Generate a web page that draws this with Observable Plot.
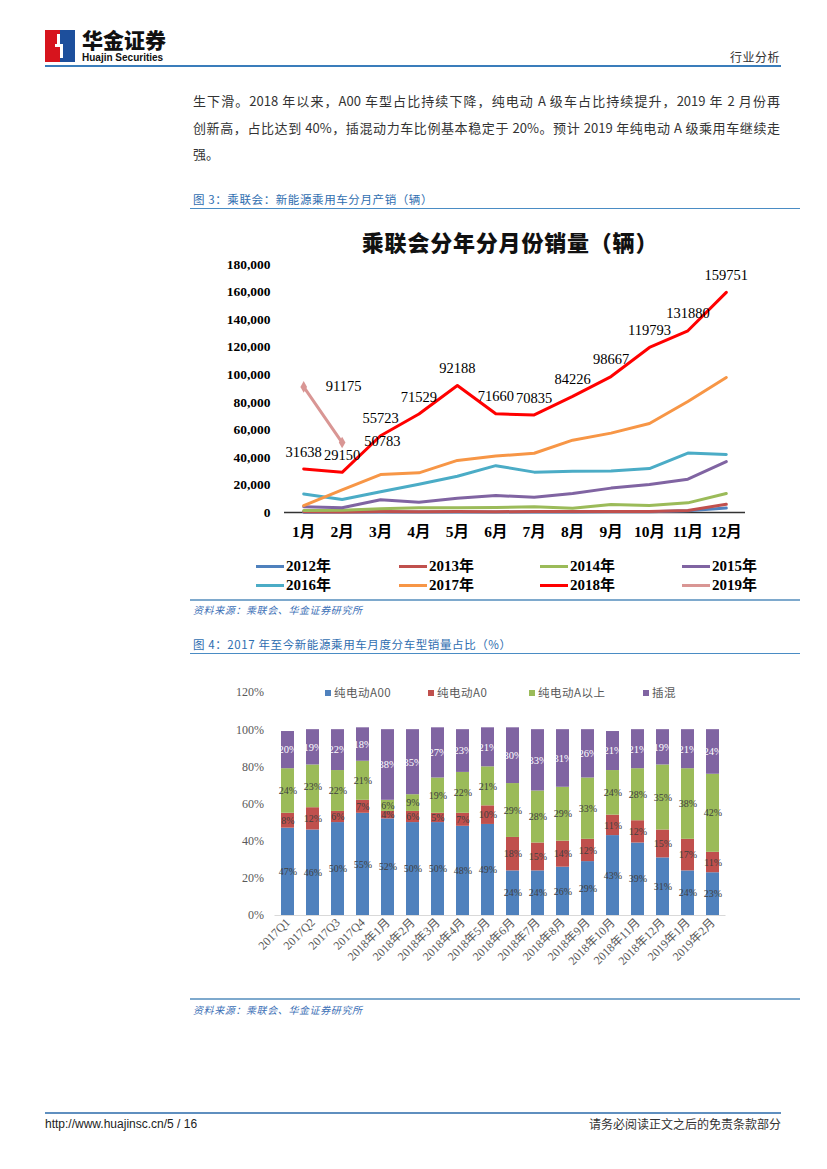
<!DOCTYPE html>
<html><head><meta charset="utf-8">
<script src="https://cdn.jsdelivr.net/npm/d3@7"></script>
<script src="https://cdn.jsdelivr.net/npm/@observablehq/plot@0.6"></script>
<style>
html,body{margin:0;padding:0;background:#fff}
body{width:827px;height:1169px;position:relative;overflow:hidden;font-family:"Noto Sans CJK SC",sans-serif;color:#333}
.a{position:absolute;white-space:nowrap}
.hl{position:absolute;height:0}
.cap{color:#2f6eb0;font-size:11.5px;letter-spacing:0.6px;line-height:14px}
.src{color:#3b6fb6;font-size:10px;font-style:italic;letter-spacing:0.6px;line-height:12px}
.body{font-size:13px;line-height:16px;color:#333;width:587px;left:193px;text-align:justify;text-align-last:justify}
.lg1{font-family:"Liberation Serif","Noto Sans CJK SC",serif;font-weight:bold;font-size:15px;line-height:18px;color:#000}
.lg1 .sw{display:inline-block;width:28px;height:3px;vertical-align:middle;margin-right:2px;position:relative;top:-1px}
.lg2{font-size:11.5px;line-height:14px;color:#595959;letter-spacing:0.5px}
.lg2 .sq{display:inline-block;width:6px;height:6px;margin-right:3px;vertical-align:middle;position:relative;top:-1px}
</style></head><body>
<!-- header -->
<div class="a" style="left:45px;top:30px;width:15px;height:32px;background:#d7141d"></div>
<div class="a" style="left:60px;top:30px;width:15px;height:32px;background:#1d4f9c"></div>
<div class="a" style="left:57px;top:34px;width:3px;height:12px;background:#fff"></div>
<div class="a" style="left:60px;top:44px;width:3px;height:14px;background:#fff"></div>
<div class="a" style="left:55px;top:44px;width:8px;height:3px;background:#fff"></div>
<div class="a" style="left:82px;top:29px;font-size:21px;font-weight:900;color:#111;line-height:21px;letter-spacing:0px">华金证券</div>
<div class="a" style="left:82px;top:53px;font-family:'Liberation Sans',Arial,sans-serif;font-size:10px;font-weight:bold;color:#111;line-height:10px">Huajin Securities</div>
<div class="a" style="right:47px;top:49px;font-size:12px;line-height:15px;color:#333;letter-spacing:0.5px">行业分析</div>
<div class="hl" style="left:45px;top:65px;width:736px;border-top:2px solid #3a7dbb"></div>

<div class="a body" style="top:93px">生下滑。2018 年以来，A00 车型占比持续下降，纯电动 A 级车占比持续提升，2019 年 2 月份再</div>
<div class="a body" style="top:120px">创新高，占比达到 40%，插混动力车比例基本稳定于 20%。预计 2019 年纯电动 A 级乘用车继续走</div>
<div class="a" style="left:193px;top:146px;font-size:13px;line-height:16px;color:#333">强。</div>

<!-- figure 3 -->
<div class="a cap" style="left:193px;top:192px">图 3：乘联会：新能源乘用车分月产销（辆）</div>
<div class="hl" style="left:190px;top:208px;width:610px;border-top:1.5px solid #4a8cc4"></div>
<div class="a" style="left:190px;width:640px;text-align:center;top:228px;font-size:22px;font-weight:900;color:#111;line-height:27px;letter-spacing:0.8px">乘联会分年分月份销量（辆）</div>
<div id="chart1" class="a" style="left:190px;top:250px"></div>
<div id="legend1"></div>
<div class="hl" style="left:190px;top:599px;width:610px;border-top:2px solid #7ea9cd"></div>
<div class="a src" style="left:193px;top:604px">资料来源：乘联会、华金证券研究所</div>

<!-- figure 4 -->
<div class="a cap" style="left:193px;top:637px">图 4：2017 年至今新能源乘用车月度分车型销量占比（%）</div>
<div class="hl" style="left:190px;top:653px;width:610px;border-top:1.5px solid #4a8cc4"></div>
<div id="chart2" class="a" style="left:190px;top:680px"></div>
<div id="legend2"></div>
<div class="hl" style="left:190px;top:998px;width:610px;border-top:2px solid #7ea9cd"></div>
<div class="a src" style="left:193px;top:1004px">资料来源：乘联会、华金证券研究所</div>

<!-- footer -->
<div class="hl" style="left:45px;top:1112px;width:736px;border-top:2px solid #5f8fbf"></div>
<div class="a" style="left:45px;top:1117px;font-family:'Liberation Sans',Arial,sans-serif;font-size:12px;line-height:14px;color:#222">http://www.huajinsc.cn/5 / 16</div>
<div class="a" style="right:46px;top:1117px;font-size:12px;line-height:14px;color:#333">请务必阅读正文之后的免责条款部分</div>

<script>
// ---------- Figure 3 data ----------
const months = ["1月","2月","3月","4月","5月","6月","7月","8月","9月","10月","11月","12月"];
const yearNames = ["2012年","2013年","2014年","2015年","2016年","2017年","2018年","2019年"];
const sales2012 = [200, 300, 400, 300, 400, 400, 300, 400, 500, 600, 1200, 3200];
const sales2013 = [600, 300, 700, 600, 700, 600, 700, 800, 700, 800, 1500, 6000];
const sales2014 = [1500, 1700, 2700, 3400, 3400, 3600, 4100, 3100, 5800, 5100, 7000, 13800];
const sales2015 = [4200, 3500, 9300, 7500, 10400, 12400, 11000, 13800, 17700, 20300, 24200, 37000];
const sales2016 = [13500, 9500, 15100, 20500, 26300, 34000, 29300, 30000, 30200, 31900, 43100, 42100];
const sales2017 = [5000, 16500, 27500, 28800, 37800, 41000, 43000, 52500, 57600, 64600, 80600, 98000];
const sales2018 = [31638, 29150, 55723, 71529, 92188, 71660, 70835, 84226, 98667, 119793, 131880, 159751];
const sales2019 = [91175, 50783];
const yTicks1 = [0, 20000, 40000, 60000, 80000, 100000, 120000, 140000, 160000, 180000];
const lineColors = ["#4f81bd","#c0504d","#9bbb59","#8064a2","#4bacc6","#f79646","#ff0000","#d99694"];

const allSales = [sales2012, sales2013, sales2014, sales2015, sales2016, sales2017, sales2018, sales2019];
const salesRows = [];
allSales.forEach((arr, k) => arr.forEach((v, i) => salesRows.push({year: yearNames[k], month: i + 1, value: v})));
const rows2018 = salesRows.filter(d => d.year === "2018年");
const rows2019 = salesRows.filter(d => d.year === "2019年");

const chart1 = Plot.plot({
  width: 570, height: 300,
  marginTop: 14, marginBottom: 38, marginLeft: 94, marginRight: 15,
  style: {fontFamily: "'Liberation Serif','Noto Sans CJK SC',serif", fontWeight: "bold", fontSize: "13px", color: "#000", background: "transparent"},
  x: {domain: [0.5, 12.5], axis: null},
  y: {domain: [0, 180000], axis: null},
  color: {domain: yearNames, range: lineColors},
  marks: [
    Plot.axisY({ticks: yTicks1, tickFormat: d3.format(","), tickSize: 0, tickPadding: 14, label: null, fontSize: 13.5}),
    Plot.axisX({ticks: d3.range(1, 13), tickFormat: i => months[i - 1], tickSize: 0, tickPadding: 13, label: null, fontSize: 15.5}),
    Plot.ruleY([0], {stroke: "#333", strokeWidth: 1.5}),
    Plot.line(salesRows, {x: "month", y: "value", z: "year", stroke: "year", strokeWidth: 3}),
    Plot.dot(rows2019, {x: "month", y: "value", symbol: "diamond", fill: "#d99694", r: 3.5}),
    Plot.text(rows2018, {x: "month", y: "value", text: d => String(d.value), dy: -17, fontWeight: "normal", fontSize: 14.5}),
    Plot.text(rows2019, {x: "month", y: "value", text: d => String(d.value), dx: 22, dy: -1, textAnchor: "start", fontWeight: "normal", fontSize: 14.5})
  ]
});
document.getElementById("chart1").append(chart1);

// legend 1
const leg1 = document.getElementById("legend1");
const legX1 = [256, 399, 540, 682];
yearNames.forEach((y, k) => {
  const d = document.createElement("div");
  d.className = "a lg1";
  d.style.left = legX1[k % 4] + "px";
  d.style.top = (k < 4 ? 557 : 576) + "px";
  d.innerHTML = `<span class="sw" style="background:${lineColors[k]}"></span>${y}`;
  leg1.append(d);
});

// ---------- Figure 4 data ----------
const periods = ["2017Q1","2017Q2","2017Q3","2017Q4","2018年1月","2018年2月","2018年3月","2018年4月","2018年5月","2018年6月","2018年7月","2018年8月","2018年9月","2018年10月","2018年11月","2018年12月","2019年1月","2019年2月"];
const shareA00  = [47, 46, 50, 55, 52, 50, 50, 48, 49, 24, 24, 26, 29, 43, 39, 31, 24, 23];
const shareA0   = [8, 12, 6, 7, 4, 6, 5, 7, 10, 18, 15, 14, 12, 11, 12, 15, 17, 11];
const shareAUp  = [24, 23, 22, 21, 6, 9, 19, 22, 21, 29, 28, 29, 33, 24, 28, 35, 38, 42];
const sharePHEV = [20, 19, 22, 18, 38, 35, 27, 23, 21, 30, 33, 31, 26, 21, 21, 19, 21, 24];
const typeNames = ["纯电动A00", "纯电动A0", "纯电动A以上", "插混"];
const typeColors = ["#4f81bd", "#c0504d", "#9bbb59", "#8064a2"];
const yTicks2 = [0, 20, 40, 60, 80, 100, 120];

const allShares = [shareA00, shareA0, shareAUp, sharePHEV];
const shareRows = [];
periods.forEach((p, i) => allShares.forEach((arr, k) => shareRows.push({period: p, type: typeNames[k], value: arr[i]})));

const chart2 = Plot.plot({
  width: 560, height: 320,
  marginTop: 12, marginBottom: 85, marginLeft: 84.5, marginRight: 24.5,
  style: {fontFamily: "'Liberation Serif','Noto Sans CJK SC',serif", fontSize: "12px", color: "#595959", background: "transparent"},
  x: {domain: periods, paddingInner: 0.48, paddingOuter: 0.24, axis: null},
  y: {domain: [0, 120], axis: null},
  color: {domain: typeNames, range: typeColors},
  marks: [
    Plot.axisY({ticks: yTicks2, tickFormat: d => d + "%", tickSize: 0, tickPadding: 11, label: null, fontSize: 12}),
    Plot.barY(shareRows, {x: "period", y: "value", fill: "type"}),
    Plot.ruleY([0], {stroke: "#d9d9d9", strokeWidth: 1}),
    Plot.axisX({tickRotate: -45, tickSize: 0, tickPadding: 5, label: null, fontSize: 12}),
    Plot.text(shareRows, Plot.stackY({x: "period", y: "value", text: d => d.type !== "插混" ? d.value + "%" : null, fill: "#404040", fontSize: 10})),
    Plot.text(shareRows, Plot.stackY({x: "period", y: "value", text: d => d.type === "插混" ? d.value + "%" : null, fill: "#ffffff", fontSize: 10.5}))
  ]
});
document.getElementById("chart2").append(chart2);

// legend 2
const leg2 = document.getElementById("legend2");
const legX2 = [325, 428, 529, 643];
typeNames.forEach((t, k) => {
  const d = document.createElement("div");
  d.className = "a lg2";
  d.style.left = legX2[k] + "px";
  d.style.top = "685px";
  d.innerHTML = `<span class="sq" style="background:${typeColors[k]}"></span>${t}`;
  leg2.append(d);
});
</script>
</body></html>
